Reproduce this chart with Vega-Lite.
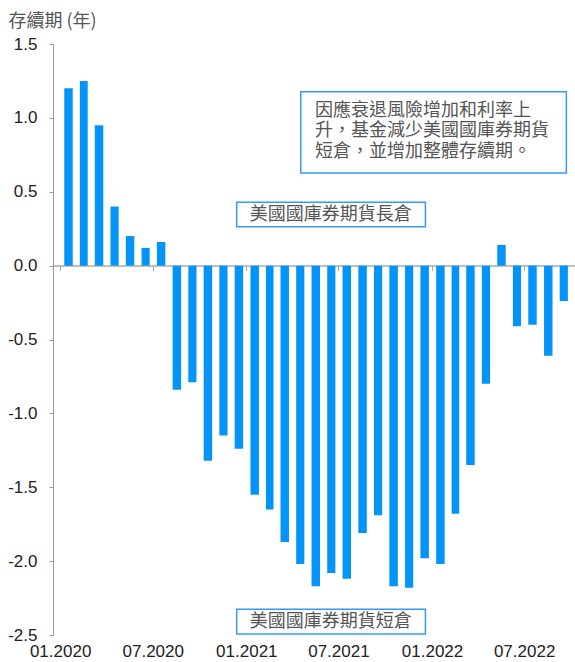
{
  "$schema": "https://vega.github.io/schema/vega-lite/v6.json",
  "width": 522,
  "height": 591,
  "autosize": {"type": "none"},
  "padding": {"left": 53, "top": 44, "right": 0, "bottom": 27},
  "background": "white",
  "config": {
    "view": {"stroke": null},
    "locale": {"number": {"decimal": ".", "thousands": ",", "grouping": [3], "currency": ["$", ""], "minus": "-"}},
    "font": "Liberation Sans"
  },
  "data": {
    "values": [
      {"month": "2020/01/01", "duration": 1.20},
      {"month": "2020/02/01", "duration": 1.25},
      {"month": "2020/03/01", "duration": 0.95},
      {"month": "2020/04/01", "duration": 0.40},
      {"month": "2020/05/01", "duration": 0.20},
      {"month": "2020/06/01", "duration": 0.12},
      {"month": "2020/07/01", "duration": 0.16},
      {"month": "2020/08/01", "duration": -0.84},
      {"month": "2020/09/01", "duration": -0.79},
      {"month": "2020/10/01", "duration": -1.32},
      {"month": "2020/11/01", "duration": -1.15},
      {"month": "2020/12/01", "duration": -1.24},
      {"month": "2021/01/01", "duration": -1.55},
      {"month": "2021/02/01", "duration": -1.65},
      {"month": "2021/03/01", "duration": -1.87},
      {"month": "2021/04/01", "duration": -2.02},
      {"month": "2021/05/01", "duration": -2.17},
      {"month": "2021/06/01", "duration": -2.08},
      {"month": "2021/07/01", "duration": -2.12},
      {"month": "2021/08/01", "duration": -1.81},
      {"month": "2021/09/01", "duration": -1.69},
      {"month": "2021/10/01", "duration": -2.17},
      {"month": "2021/11/01", "duration": -2.18},
      {"month": "2021/12/01", "duration": -1.98},
      {"month": "2022/01/01", "duration": -2.02},
      {"month": "2022/02/01", "duration": -1.68},
      {"month": "2022/03/01", "duration": -1.35},
      {"month": "2022/04/01", "duration": -0.80},
      {"month": "2022/05/01", "duration": 0.14},
      {"month": "2022/06/01", "duration": -0.41},
      {"month": "2022/07/01", "duration": -0.40},
      {"month": "2022/08/01", "duration": -0.61},
      {"month": "2022/09/01", "duration": -0.24}
    ]
  },
  "layer": [
    {
      "mark": {"type": "bar", "color": "#0394FA", "width": {"band": 0.6}},
      "encoding": {
        "x": {
          "field": "month", "type": "temporal", "timeUnit": "yearmonth",
          "scale": {"domain": [{"year": 2019, "month": 12, "date": 18}, {"year": 2022, "month": 10, "date": 9}], "nice": false},
          "axis": {
            "orient": "bottom", "offset": -369.4, "labels": false, "title": null, "grid": false,
            "tickSize": 5, "tickColor": "#aaaaaa", "domainColor": "#aaaaaa", "domainWidth": 1.5,
            "values": [{"year": 2020, "month": 1, "date": 1}, {"year": 2020, "month": 7, "date": 1}, {"year": 2021, "month": 1, "date": 1}, {"year": 2021, "month": 7, "date": 1}, {"year": 2022, "month": 1, "date": 1}, {"year": 2022, "month": 7, "date": 1}]
          }
        },
        "y": {
          "field": "duration", "type": "quantitative",
          "scale": {"domain": [-2.5, 1.5], "nice": false, "zero": false},
          "axis": {
            "values": [-2.5, -2, -1.5, -1, -0.5, 0, 0.5, 1, 1.5],
            "format": ".1f", "grid": false,
            "labelFontSize": 17, "labelColor": "#222222", "labelPadding": 12, "labelFont": "Liberation Sans",
            "tickSize": 4, "tickColor": "#999999", "domainColor": "#999999",
            "title": "存續期 (年)", "titleAngle": 0, "titleAlign": "left", "titleBaseline": "middle",
            "titleX": -45, "titleY": -23, "titleFont": "Noto Sans CJK TC", "titleFontSize": 18,
            "titleFontWeight": "normal", "titleColor": "#555555"
          }
        }
      }
    },
    {
      "data": {"values": [{}]},
      "mark": {"type": "rect", "fill": "white", "stroke": "#3399FF", "strokeWidth": 1.5},
      "encoding": {
        "x": {"datum": {"year": 2021, "month": 4, "date": 18}, "type": "temporal", "axis": null},
        "x2": {"datum": {"year": 2022, "month": 9, "date": 22}},
        "y": {"datum": 1.177, "type": "quantitative"},
        "y2": {"datum": 0.627}
      }
    },
    {
      "data": {"values": [{}]},
      "mark": {"type": "rect", "fill": "white", "stroke": "#3399FF", "strokeWidth": 1.5},
      "encoding": {
        "x": {"datum": {"year": 2020, "month": 12, "date": 13}, "type": "temporal", "axis": null},
        "x2": {"datum": {"year": 2021, "month": 12, "date": 19}},
        "y": {"datum": 0.429, "type": "quantitative"},
        "y2": {"datum": 0.263}
      }
    },
    {
      "data": {"values": [{}]},
      "mark": {"type": "rect", "fill": "white", "stroke": "#3399FF", "strokeWidth": 1.5},
      "encoding": {
        "x": {"datum": {"year": 2020, "month": 12, "date": 13}, "type": "temporal", "axis": null},
        "x2": {"datum": {"year": 2021, "month": 12, "date": 19}},
        "y": {"datum": -2.326, "type": "quantitative"},
        "y2": {"datum": -2.493}
      }
    },
    {
      "data": {"values": [{}]},
      "mark": {"type": "text", "text": ["因應衰退風險增加和利率上", "升，基金減少美國國庫券期貨", "短倉，並增加整體存續期。"], "align": "left", "baseline": "middle", "lineHeight": 20.5, "font": "Noto Sans CJK TC", "fontSize": 18, "color": "#555555"},
      "encoding": {
        "x": {"datum": {"year": 2021, "month": 5, "date": 16}, "type": "temporal", "axis": null},
        "y": {"datum": 1.047, "type": "quantitative"}
      }
    },
    {
      "data": {"values": [{}]},
      "mark": {"type": "text", "text": "美國國庫券期貨長倉", "align": "center", "baseline": "middle", "font": "Noto Sans CJK TC", "fontSize": 18, "color": "#555555"},
      "encoding": {
        "x": {"datum": {"year": 2021, "month": 6, "date": 16}, "type": "temporal", "axis": null},
        "y": {"datum": 0.346, "type": "quantitative"}
      }
    },
    {
      "data": {"values": [{}]},
      "mark": {"type": "text", "text": "美國國庫券期貨短倉", "align": "center", "baseline": "middle", "font": "Noto Sans CJK TC", "fontSize": 18, "color": "#555555"},
      "encoding": {
        "x": {
          "datum": {"year": 2021, "month": 6, "date": 16}, "type": "temporal",
          "axis": {
            "orient": "bottom", "domain": false, "ticks": false, "grid": false, "title": null,
            "labelPadding": 8, "labelFontSize": 17, "labelColor": "#222222", "labelFont": "Liberation Sans",
            "format": "%m.%Y", "formatType": "time",
            "values": [{"year": 2020, "month": 1, "date": 1}, {"year": 2020, "month": 7, "date": 1}, {"year": 2021, "month": 1, "date": 1}, {"year": 2021, "month": 7, "date": 1}, {"year": 2022, "month": 1, "date": 1}, {"year": 2022, "month": 7, "date": 1}]
          }
        },
        "y": {"datum": -2.41, "type": "quantitative"}
      }
    }
  ],
  "resolve": {"axis": {"x": "independent"}}
}
